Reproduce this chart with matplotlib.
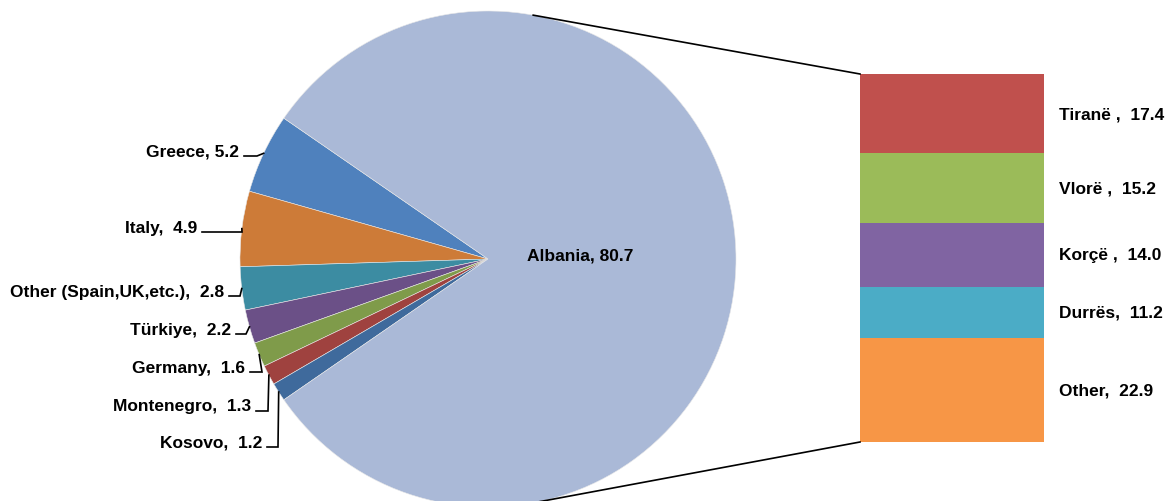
import matplotlib
matplotlib.use("Agg")
import matplotlib.pyplot as plt
import numpy as np

plt.rcParams['font.family'] = ['Liberation Sans', 'DejaVu Sans']

# share of remittances by origin country (%)
countries = ['Albania', 'Greece', 'Italy', 'Other (Spain,UK,etc.)', 'Türkiye',
             'Germany', 'Montenegro', 'Kosovo']
country_vals = [80.7, 5.2, 4.9, 2.8, 2.2, 1.6, 1.3, 1.2]
country_seps = [', ', ', ', ',  ', ',  ', ',  ', ',  ', ',  ', ',  ']
country_colors = ['#AAB9D7', '#4F81BD', '#CD7B38', '#3C8CA2', '#6B5087',
                  '#7F9B4A', '#9F423F', '#3F6A9C']

# breakdown of the Albania slice by region
regions = ['Tiranë ', 'Vlorë ', 'Korçë ', 'Durrës', 'Other']
region_vals = [17.4, 15.2, 14.0, 11.2, 22.9]
region_colors = ['#C0504D', '#9BBB59', '#8064A2', '#4BACC6', '#F79646']

W, H = 1170, 502
FS = 12.5
fig = plt.figure(figsize=(W / 100, H / 100), dpi=100)
ax = fig.add_axes([0, 0, 1, 1])

cx, cy, R = 488, 242, 248
small = sum(country_vals[1:]) / sum(country_vals) * 360
start = 180 - small / 2

# pie: small slices go first, counter-clockwise from the upper left
order = list(range(1, len(countries))) + [0]
vals = [country_vals[i] for i in order]
cols = [country_colors[i] for i in order]
wedges, _ = ax.pie(vals, colors=cols, startangle=start, counterclock=True,
                   center=(cx, cy), radius=R, frame=True,
                   wedgeprops=dict(edgecolor='#e8e8e8', linewidth=0.4))

# labels for the small slices, with elbow leaders
lab_end = [239, 197, 224, 231, 245, 251, 262]
lab_y = [152, 228, 292, 330, 368, 407, 443]
elbow_x = [257, 242, 240, 246, 262, 268, 278]
for k, w in enumerate(wedges[:-1]):
    i = order[k]
    mid = np.deg2rad((w.theta1 + w.theta2) / 2)
    px, py = cx + R * np.cos(mid), cy + R * np.sin(mid)
    ty = H - lab_y[k]
    ax.text(lab_end[k], ty, f"{countries[i]}{country_seps[i]}{country_vals[i]:.1f}",
            ha='right', va='center', fontsize=FS, fontweight='bold')
    ly = ty - 5
    ax.plot([lab_end[k] + 5, elbow_x[k], px], [ly, ly, py],
            color='black', lw=1.2, solid_joinstyle='miter')

# label inside the big slice
aw = wedges[-1]
amid = np.deg2rad((aw.theta1 + aw.theta2) / 2)
ax.text(cx + 0.37 * R * np.cos(amid), cy + 0.37 * R * np.sin(amid) + 4,
        f"{countries[0]}, {country_vals[0]:.1f}",
        ha='center', va='center', fontsize=FS, fontweight='bold')

# stacked bar for the regional split
bar_x, bar_w = 952, 184
bar_bottom, bar_top = H - 443, H - 75
scale = (bar_top - bar_bottom) / sum(region_vals)
bottom = bar_bottom
for name, v, c in reversed(list(zip(regions, region_vals, region_colors))):
    h = v * scale
    ax.bar(bar_x, h, width=bar_w, bottom=bottom, color=c, linewidth=0)
    ax.text(bar_x + bar_w / 2 + 15, bottom + h / 2, f"{name},  {v:.1f}",
            ha='left', va='center', fontsize=FS, fontweight='bold')
    bottom += h

# connector lines from the pie to the bar
for ang, by in [(79.5, bar_top), (-79.5, bar_bottom)]:
    a = np.deg2rad(ang)
    ax.plot([cx + R * np.cos(a), bar_x - bar_w / 2],
            [cy + R * np.sin(a), by], color='black', lw=1.2)

ax.set_xlim(0, W)
ax.set_ylim(0, H)
ax.set_aspect('auto')
ax.axis('off')
fig.savefig('out.png', dpi=100)
